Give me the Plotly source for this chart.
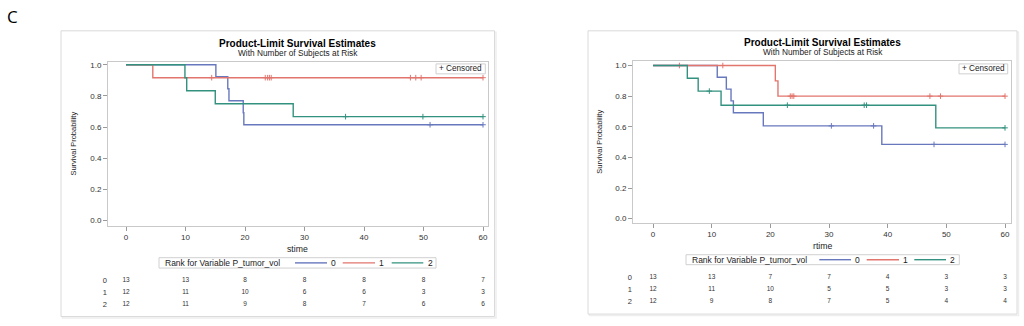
import numpy as np
import plotly.graph_objects as go

W, H = 1024, 326


def px(x):
    return x / W


def py(y):
    return 1 - y / H


FONT = "Liberation Sans"

# ---------------- data ----------------
groups = ["0", "1", "2"]
group_colors = ["#6878bd", "#e2756d", "#33917f"]
legend_title = "Rank for Variable P_tumor_vol"
risk_times = [0, 10, 20, 30, 40, 50, 60]
x_ticks = [0, 10, 20, 30, 40, 50, 60]
y_ticks = [0.0, 0.2, 0.4, 0.6, 0.8, 1.0]

# Left panel (stime)
left_time_0 = [0, 15.1, 17.1, 17.3, 19.7, 19.8, 60]
left_surv_0 = [1.0, 0.923, 0.846, 0.769, 0.692, 0.615, 0.615]
left_cens_0 = [51.1, 60]
left_time_1 = [0, 4.5, 60]
left_surv_1 = [1.0, 0.917, 0.917]
left_cens_1 = [14.4, 23.4, 23.8, 24.1, 24.4, 47.8, 48.7, 49.6, 60]
left_time_2 = [0, 9.9, 10.2, 15.0, 28.1, 60]
left_surv_2 = [1.0, 0.917, 0.833, 0.75, 0.667, 0.667]
left_cens_2 = [36.9, 49.9, 60]
left_risk_0 = [13, 13, 8, 8, 8, 8, 7]
left_risk_1 = [12, 11, 10, 6, 6, 3, 3]
left_risk_2 = [12, 11, 9, 8, 7, 6, 6]

# Right panel (rtime)
right_time_0 = [0, 10.95, 12.5, 13.3, 13.7, 18.8, 39.0, 60]
right_surv_0 = [1.0, 0.923, 0.846, 0.769, 0.692, 0.606, 0.485, 0.485]
right_cens_0 = [30.4, 37.6, 47.9, 60]
right_time_1 = [0, 20.85, 21.3, 60]
right_surv_1 = [1.0, 0.9, 0.8, 0.8]
right_cens_1 = [4.5, 11.9, 23.4, 23.7, 24.0, 47.2, 49.0, 60]
right_time_2 = [0, 5.85, 7.7, 11.6, 48.2, 60]
right_surv_2 = [1.0, 0.917, 0.833, 0.741, 0.593, 0.593]
right_cens_2 = [9.6, 22.9, 36.0, 36.4, 60]
right_risk_0 = [13, 13, 7, 7, 4, 3, 3]
right_risk_1 = [12, 11, 10, 5, 5, 3, 3]
right_risk_2 = [12, 9, 8, 7, 5, 4, 4]

panels = [
    dict(xa="x", ya="y", yt="y3", xtitle="stime",
         times=[left_time_0, left_time_1, left_time_2],
         survs=[left_surv_0, left_surv_1, left_surv_2],
         cens=[left_cens_0, left_cens_1, left_cens_2],
         risks=[left_risk_0, left_risk_1, left_risk_2]),
    dict(xa="x2", ya="y2", yt="y4", xtitle="rtime",
         times=[right_time_0, right_time_1, right_time_2],
         survs=[right_surv_0, right_surv_1, right_surv_2],
         cens=[right_cens_0, right_cens_1, right_cens_2],
         risks=[right_risk_0, right_risk_1, right_risk_2]),
]


def step_value(times, survs, t):
    idx = np.searchsorted(np.array(times), np.array(t), side="right") - 1
    return list(np.array(survs)[idx])


fig = go.Figure()

for p in panels:
    for g, col, t, s, c in zip(groups, group_colors, p["times"], p["survs"], p["cens"]):
        fig.add_trace(go.Scatter(
            x=t, y=s, mode="lines", line=dict(shape="hv", color=col, width=1.4),
            xaxis=p["xa"], yaxis=p["ya"], showlegend=False, hoverinfo="skip", name=g))
        fig.add_trace(go.Scatter(
            x=c, y=step_value(t, s, c), mode="markers",
            marker=dict(symbol="cross-thin-open", size=4, color=col,
                        line=dict(color=col, width=1)),
            xaxis=p["xa"], yaxis=p["ya"], showlegend=False, hoverinfo="skip"))
    for i, r in enumerate(p["risks"]):
        fig.add_trace(go.Scatter(
            x=risk_times, y=[i] * len(risk_times), mode="text",
            text=[str(v) for v in r],
            textfont=dict(size=6.5, color="#333333", family=FONT),
            xaxis=p["xa"], yaxis=p["yt"], showlegend=False, hoverinfo="skip"))

axis_common = dict(
    showgrid=False, zeroline=False, showline=True, linecolor="#c9c9c9", linewidth=1,
    mirror=True, ticks="outside", ticklen=4, tickcolor="#9a9a9a", tickwidth=1,
    tickfont=dict(size=8, color="#333333", family=FONT))
table_common = dict(
    showgrid=False, zeroline=False, showline=False, ticks="",
    tickvals=[0, 1, 2], ticktext=groups, range=[2.5, -0.5],
    tickfont=dict(size=7.5, color="#333333", family=FONT))

fig.update_layout(
    width=W, height=H, autosize=False,
    margin=dict(l=0, r=0, t=0, b=0),
    paper_bgcolor="white", plot_bgcolor="white",
    showlegend=False,
    font=dict(family=FONT),
    xaxis=dict(domain=[px(108), px(488)], range=[-3.03, 60.84], anchor="y",
               tickvals=x_ticks, **axis_common),
    yaxis=dict(domain=[py(226), py(61)], range=[-0.032, 1.02], anchor="x",
               tickvals=y_ticks, tickformat=".1f", **axis_common),
    yaxis3=dict(domain=[py(311), py(275)], anchor="x", **table_common),
    xaxis2=dict(domain=[px(633), px(1011)], range=[-3.41, 61.02], anchor="y2",
                tickvals=x_ticks, **axis_common),
    yaxis2=dict(domain=[py(223), py(60)], range=[-0.026, 1.032], anchor="x2",
                tickvals=y_ticks, tickformat=".1f", **axis_common),
    yaxis4=dict(domain=[py(308), py(272)], anchor="x2", **table_common),
)

shapes = []
annotations = []

# panel frames
for (x0, y0, x1, y1) in [(61, 30, 494.5, 317.5), (588, 30, 1017, 315)]:
    shapes.append(dict(type="rect", xref="paper", yref="paper",
                       x0=px(x0 + 1.5), x1=px(x1 + 1.5), y0=py(y1 + 1.5), y1=py(y0 + 1.5),
                       line=dict(color="#eeeeee", width=1.5), layer="below"))
    shapes.append(dict(type="rect", xref="paper", yref="paper",
                       x0=px(x0), x1=px(x1), y0=py(y1), y1=py(y0),
                       line=dict(color="#dadada", width=1), fillcolor="white", layer="below"))

# titles
for cx, ty, sy in [(297.5, 42.7, 52.7), (822.8, 41.7, 51.2)]:
    annotations.append(dict(x=px(cx), y=py(ty), xref="paper", yref="paper",
                            text="<b>Product-Limit Survival Estimates</b>", showarrow=False,
                            xanchor="center", yanchor="middle",
                            font=dict(size=10, color="#000000", family=FONT)))
    annotations.append(dict(x=px(cx), y=py(sy), xref="paper", yref="paper",
                            text="With Number of Subjects at Risk", showarrow=False,
                            xanchor="center", yanchor="middle",
                            font=dict(size=8.3, color="#222222", family=FONT)))

# axis titles
for p, (xcx, xcy), (ycx, ycy) in zip(panels, [(297.8, 249.3), (822.8, 246.3)],
                                     [(73.5, 144), (600, 141.5)]):
    annotations.append(dict(x=px(xcx), y=py(xcy), xref="paper", yref="paper",
                            text=p["xtitle"], showarrow=False, xanchor="center", yanchor="middle",
                            font=dict(size=8.7, color="#222222", family=FONT)))
    annotations.append(dict(x=px(ycx), y=py(ycy), xref="paper", yref="paper",
                            text="Survival Probability", showarrow=False, textangle=-90,
                            xanchor="center", yanchor="middle",
                            font=dict(size=7.5, color="#222222", family=FONT)))

# censored legend boxes
for (x0, y0, x1, y1) in [(436, 63.3, 485.3, 73.3), (959, 63.3, 1007.7, 73.3)]:
    shapes.append(dict(type="rect", xref="paper", yref="paper",
                       x0=px(x0), x1=px(x1), y0=py(y1), y1=py(y0),
                       line=dict(color="#d0d0d0", width=1), fillcolor="white"))
    annotations.append(dict(x=px((x0 + x1) / 2), y=py((y0 + y1) / 2), xref="paper", yref="paper",
                            text="+ Censored", showarrow=False, xanchor="center", yanchor="middle",
                            font=dict(size=8.2, color="#222222", family=FONT)))

# group legends
legend_specs = [
    dict(box=(159, 258.3, 436, 268.7), text_x=163.3,
         lines=[(295, 327, 333), (342.7, 375, 381.7), (391.7, 423.3, 430)]),
    dict(box=(686, 255.3, 959.3, 265.3), text_x=690,
         lines=[(819.3, 851, 857.3), (866.7, 899, 905), (914.3, 946, 952.7)]),
]
for spec in legend_specs:
    x0, y0, x1, y1 = spec["box"]
    cy = (y0 + y1) / 2
    shapes.append(dict(type="rect", xref="paper", yref="paper",
                       x0=px(x0), x1=px(x1), y0=py(y1), y1=py(y0),
                       line=dict(color="#d0d0d0", width=1), fillcolor="white"))
    annotations.append(dict(x=px(spec["text_x"]), y=py(cy), xref="paper", yref="paper",
                            text=legend_title, showarrow=False, xanchor="left", yanchor="middle",
                            font=dict(size=8.5, color="#222222", family=FONT)))
    for g, col, (lx0, lx1, tx) in zip(groups, group_colors, spec["lines"]):
        shapes.append(dict(type="line", xref="paper", yref="paper",
                           x0=px(lx0), x1=px(lx1), y0=py(cy), y1=py(cy),
                           line=dict(color=col, width=1.4)))
        annotations.append(dict(x=px(tx), y=py(cy), xref="paper", yref="paper",
                                text=g, showarrow=False, xanchor="center", yanchor="middle",
                                font=dict(size=8.5, color="#222222", family=FONT)))

# panel label
annotations.append(dict(x=px(12.5), y=py(16), xref="paper", yref="paper", text="C",
                        showarrow=False, xanchor="center", yanchor="middle",
                        font=dict(size=17, color="#000000", family="Open Sans")))

fig.update_layout(shapes=shapes, annotations=annotations)
fig.write_html(
    "out.html",
    config={"displayModeBar": False},
    post_script="document.body.style.margin='0';document.body.style.overflow='hidden';",
)
